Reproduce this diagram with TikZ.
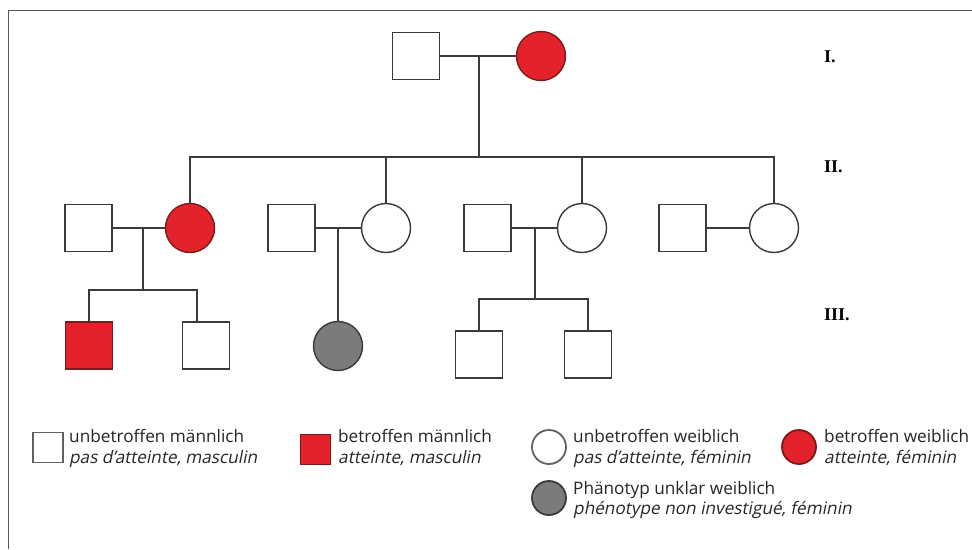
\documentclass[tikz,border=0pt]{standalone}
\usepackage{fontspec}
\setmainfont{Liberation Serif}
\newfontfamily\legfont{Open Sans}
\newfontfamily\legslant[FakeSlant=0.2]{Open Sans}
\definecolor{linecol}{HTML}{3A3A3A}
\definecolor{myred}{HTML}{E4222B}
\definecolor{redline}{HTML}{7A1A1A}
\definecolor{mygray}{HTML}{7B7B7B}
\definecolor{framecol}{HTML}{555555}
\begin{document}
\begin{tikzpicture}[x=1pt,y=-1pt,
  ln/.style={draw=linecol, line width=1.4pt},
  male/.style={rectangle, draw=linecol, line width=1.4pt, fill=white, minimum size=47pt, inner sep=0pt},
  female/.style={circle, draw=linecol, line width=1.4pt, fill=white, minimum size=49pt, inner sep=0pt},
  aff/.style={fill=myred, draw=redline},
  unk/.style={fill=mygray, draw=linecol},
  gen/.style={font=\bfseries\fontsize{18}{18}\selectfont, anchor=west, inner sep=0pt},
  legsq/.style={rectangle, draw=linecol!80, line width=1.8pt, fill=white, minimum size=30pt, inner sep=0pt},
  legci/.style={circle, draw=linecol!80, line width=1.8pt, fill=white, minimum size=34pt, inner sep=0pt},
  leg/.style={font=\legfont\fontsize{17.2}{20}\selectfont, anchor=base west, inner sep=0pt, text=black!85},
  legi/.style={leg, font=\legslant\fontsize{17.2}{20}\selectfont}
]
\useasboundingbox (0,0) rectangle (972,549);
\fill[white] (0,0) rectangle (972,549);
% frame
\draw[framecol, line width=1pt] (8,549) -- (8,10.5) -- (972,10.5);

% Generation I
\node[male] (i1) at (416,56) {};
\node[female, aff] (i2) at (541,56) {};
% Generation II
\node[male] (a1) at (88.5,228) {};
\node[female, aff] (a2) at (190,228) {};
\node[male] (b1) at (291.5,228) {};
\node[female] (b2) at (386,228) {};
\node[male] (c1) at (487.5,228) {};
\node[female] (c2) at (582,228) {};
\node[male] (d1) at (682.5,228) {};
\node[female] (d2) at (774,228) {};
% Generation III
\node[male, aff] (e1) at (89,345.5) {};
\node[male] (e2) at (206,345.5) {};
\node[female, unk] (f1) at (338,346) {};
\node[male] (g1) at (479,354.5) {};
\node[male] (g2) at (588,354.5) {};

% coordinates
\coordinate (m1) at (479,56);
\coordinate (s1) at (479,157);
\coordinate (m2) at (143,228);
\coordinate (s2) at (143,290);
\coordinate (e2top) at (197,321);
\coordinate (m3) at (338,228);
\coordinate (m4) at (535,228);
\coordinate (s4) at (535,299);

% marriages
\draw[ln] (i1.east) -- (i2.west);
\draw[ln] (a1.east) -- (a2.west);
\draw[ln] (b1.east) -- (b2.west);
\draw[ln] (c1.east) -- (c2.west);
\draw[ln] (d1.east) -- (d2.west);
% descent I -> II
\draw[ln] (m1) -- (s1);
\draw[ln] (a2.north) -- (a2.north |- s1) -- (d2.north |- s1) -- (d2.north);
\draw[ln] (b2.north) -- (b2.north |- s1);
\draw[ln] (c2.north) -- (c2.north |- s1);
% descent II -> III
\draw[ln] (m2) -- (s2);
\draw[ln] (e1.north) -- (e1.north |- s2) -- (e2top |- s2) -- (e2top);
\draw[ln] (m3) -- (f1.north);
\draw[ln] (m4) -- (s4);
\draw[ln] (g1.north) -- (g1.north |- s4) -- (g2.north |- s4) -- (g2.north);

% generation labels
\node[gen] (gI) at (824,57) {I.};
\node[gen] (gII) at (824,167) {II.};
\node[gen] (gIII) at (824,315) {III.};

% legend
\node[legsq] (l1) at (48,447.5) {};
\node[leg] (l1a) at (69,442) {unbetroffen männlich};
\node[legi] (l1b) at (69,463) {pas d’atteinte, masculin};

\node[legsq, fill=myred, draw=redline] (l2) at (315.5,449.5) {};
\node[leg] (l2a) at (338,442) {betroffen männlich};
\node[legi] (l2b) at (338,463) {atteinte, masculin};

\node[legci] (l3) at (549,447) {};
\node[leg] (l3a) at (573,442) {unbetroffen weiblich};
\node[legi] (l3b) at (573,463) {pas d’atteinte, féminin};

\node[legci, fill=myred, draw=redline] (l4) at (799,447) {};
\node[leg] (l4a) at (824,442) {betroffen weiblich};
\node[legi] (l4b) at (824,463) {atteinte, féminin};

\node[legci, fill=mygray, draw=linecol] (l5) at (549,498) {};
\node[leg] (l5a) at (573,494) {Phänotyp unklar weiblich};
\node[legi] (l5b) at (573,514) {phénotype non investigué, féminin};
\end{tikzpicture}
\end{document}
